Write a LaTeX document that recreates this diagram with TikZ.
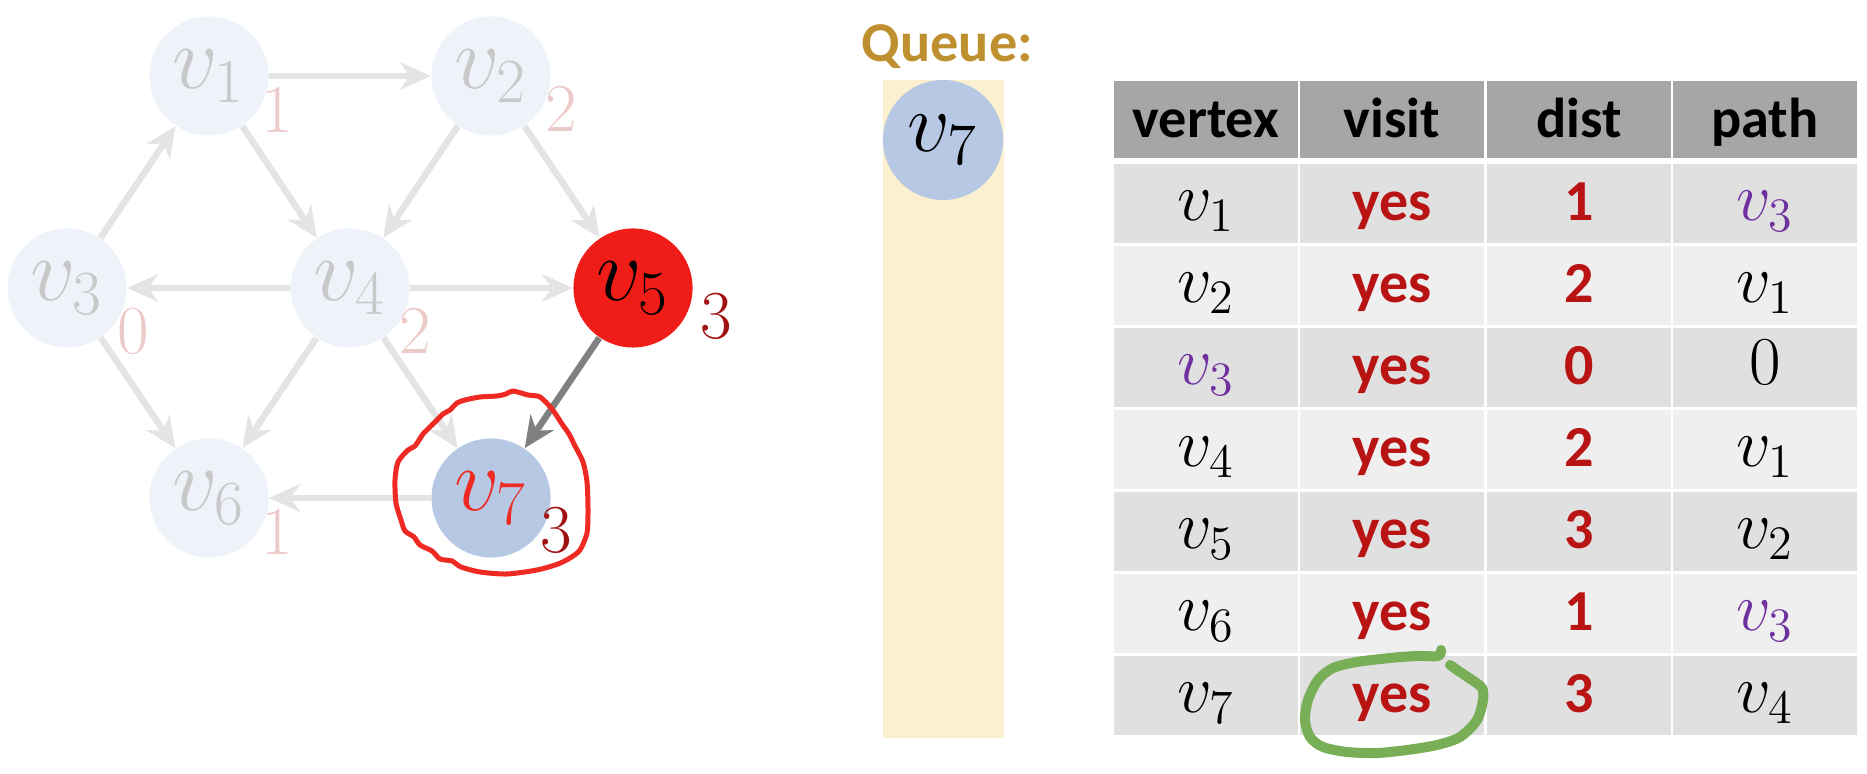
\RequirePackage{fix-cm}
\documentclass[tikz,border=0pt]{standalone}
\usepackage[no-math]{fontspec}
\setmainfont{Carlito}
\usetikzlibrary{arrows.meta}

\definecolor{nodefade}{HTML}{EEF2F9}
\definecolor{textfade}{HTML}{C8C8C8}
\definecolor{lblfade}{HTML}{EDCACA}
\definecolor{edgefade}{HTML}{E4E4E4}
\definecolor{vred}{HTML}{EF1C17}
\definecolor{vblue}{HTML}{B7C8E5}
\definecolor{darkred}{HTML}{A01212}
\definecolor{yesred}{HTML}{B91414}
\definecolor{hdr}{HTML}{A6A6A6}
\definecolor{rowdark}{HTML}{E0E0E0}
\definecolor{rowlight}{HTML}{EFEFEF}
\definecolor{queuebg}{HTML}{FBF0D0}
\definecolor{queuetxt}{HTML}{BF9030}
\definecolor{vpurple}{HTML}{7030A0}
\definecolor{loopred}{HTML}{EE2A22}
\definecolor{loopgreen}{HTML}{78AE55}
\definecolor{arrowgray}{HTML}{808080}

\begin{document}
\begin{tikzpicture}[x=0.01cm,y=-0.01cm,
  vnode/.style={circle, minimum size=1.19cm, inner sep=0pt, font=\fontsize{25.5}{30}\selectfont},
  faded/.style={vnode, fill=nodefade, text=textfade},
  edge/.style={draw=edgefade, line width=0.065cm, -{Stealth[length=0.31cm,width=0.28cm,inset=0.1cm]}},
  hotedge/.style={edge, draw=arrowgray},
  distlbl/.style={anchor=base, inner sep=0pt, font=\fontsize{19.5}{23}\selectfont},
  hdrtext/.style={anchor=base, inner sep=0pt, font=\fontsize{16}{19}\selectfont\bfseries},
  celltext/.style={anchor=base, inner sep=0pt, font=\fontsize{16.5}{19}\selectfont\bfseries, text=yesred},
  cellmath/.style={anchor=base, inner sep=0pt, font=\fontsize{19.5}{23}\selectfont}
]
\useasboundingbox (0,0) rectangle (1867,774);

% ---------- graph ----------
\node[faded] (v1) at (209,76)  {$v_1$};
\node[faded] (v2) at (491,76)  {$v_2$};
\node[faded] (v3) at (67,288)  {$v_3$};
\node[faded] (v4) at (350,288) {$v_4$};
\node[vnode, fill=vred, text=black] (v5) at (633,288) {$v_5$};
\node[faded] (v6) at (209,498) {$v_6$};
\node[vnode, fill=vblue, text=loopred] (v7) at (491,498) {$v_7$};

\node[distlbl, text=lblfade] (d1) at (277,133) {$1$};
\node[distlbl, text=lblfade] (d2) at (561,132) {$2$};
\node[distlbl, text=lblfade] (d3) at (133,354) {$0$};
\node[distlbl, text=lblfade] (d4) at (415,354) {$2$};
\node[distlbl, text=darkred] (d5) at (716,339) {$3$};
\node[distlbl, text=lblfade] (d6) at (277,555) {$1$};
\node[distlbl, text=darkred] (d7) at (556,553) {$3$};

\draw[edge] (v1) -- (v2);
\draw[edge] (v3) -- (v1);
\draw[edge] (v1) -- (v4);
\draw[edge] (v2) -- (v4);
\draw[edge] (v2) -- (v5);
\draw[edge] (v4) -- (v3);
\draw[edge] (v4) -- (v5);
\draw[edge] (v3) -- (v6);
\draw[edge] (v4) -- (v6);
\draw[edge] (v4) -- (v7);
\draw[edge] (v7) -- (v6);
\draw[hotedge] (v5) -- (v7);

% hand-drawn ring around v7
\draw[loopred, line width=0.05cm, line join=round] plot[smooth cycle, tension=0.45] coordinates {
  (513,391) (528,395) (540,397) (552,409) (562,424) (569,434) (575,446)
  (583,462) (587,482) (588,510) (587,533) (580,550) (570,558) (558,564)
  (537,570) (507,574) (480,572) (461,567) (452,561) (440,559) (432,551)
  (420,545) (414,537) (405,531) (401,520) (396,503) (395,480) (398,462)
  (408,450) (415,446) (423,434) (432,425) (437,420) (443,414) (450,410)
  (457,403) (465,400) (480,397) (497,396) (506,394)};

% ---------- queue ----------
\node[anchor=base west, inner sep=0pt, text=queuetxt, font=\fontsize{16}{19}\selectfont\bfseries] (qlabel) at (861,62) {Queue:};
\fill[queuebg] (883,80) rectangle (1004,738);
\node[vnode, fill=vblue, text=black, minimum size=1.2cm, font=\fontsize{24}{28}\selectfont] (q1) at (943,140) {$v_7$};

% ---------- table ----------
\foreach \cx/\lab in {1114/vertex, 1300/visit, 1487/dist, 1673/path}{
  \fill[hdr] (\cx,81) rectangle +(184,77);
  \pgfmathsetmacro{\mx}{\cx+92}
  \node[hdrtext] (h\lab) at (\mx,138) {\lab};
}
\foreach \i/\va/\dv/\pa in {
  1/{$v_1$}/1/{\color{vpurple}$v_3$},
  2/{$v_2$}/2/{$v_1$},
  3/{\color{vpurple}$v_3$}/0/{$0$},
  4/{$v_4$}/2/{$v_1$},
  5/{$v_5$}/3/{$v_2$},
  6/{$v_6$}/1/{\color{vpurple}$v_3$},
  7/{$v_7$}/3/{$v_4$}}{
  \pgfmathsetmacro{\rtop}{164+82*(\i-1)}
  \pgfmathsetmacro{\rbase}{\rtop+57}
  \pgfmathparse{isodd(\i) ? "rowdark" : "rowlight"}
  \edef\rc{\pgfmathresult}
  \foreach \cx in {1114,1300,1487,1673}{
    \fill[\rc] (\cx,\rtop) rectangle +(184,79);
  }
  \node[cellmath] (r\i a) at (1206,\rbase) {\va};
  \node[celltext] (r\i b) at (1392,\rbase) {yes};
  \node[celltext] (r\i c) at (1579,\rbase) {\dv};
  \node[cellmath] (r\i d) at (1765,\rbase) {\pa};
}

% hand-drawn ring around the last "yes"
\draw[loopgreen, line width=0.10cm, line cap=round, line join=round] plot[smooth, tension=0.5] coordinates {
  (1441,650) (1438,656) (1417,656) (1390,658) (1357,662) (1333,668) (1318,680)
  (1308,700) (1305,720) (1310,737) (1323,747) (1347,752) (1377,753) (1407,750)
  (1437,745) (1460,737) (1477,720) (1483,700) (1482,688) (1472,680) (1460,672) (1450,665)};
\end{tikzpicture}
\end{document}
